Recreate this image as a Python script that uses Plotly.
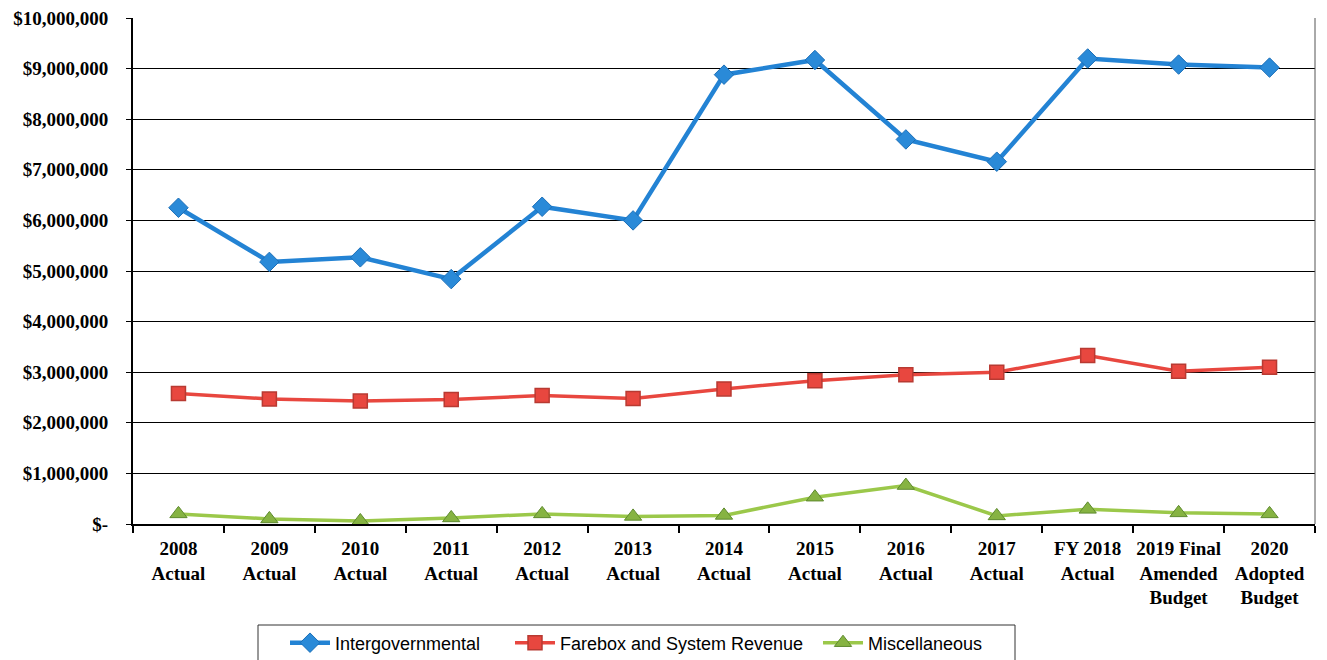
import plotly.graph_objects as go

categories = ["2008<br>Actual", "2009<br>Actual", "2010<br>Actual", "2011<br>Actual",
              "2012<br>Actual", "2013<br>Actual", "2014<br>Actual", "2015<br>Actual",
              "2016<br>Actual", "2017<br>Actual", "FY 2018<br>Actual",
              "2019 Final<br>Amended<br>Budget", "2020<br>Adopted<br>Budget"]

intergovernmental = [6250000, 5180000, 5270000, 4840000, 6270000, 6000000, 8880000,
                     9170000, 7600000, 7160000, 9200000, 9080000, 9020000]
farebox = [2580000, 2470000, 2430000, 2460000, 2540000, 2480000, 2670000,
           2830000, 2950000, 3000000, 3330000, 3020000, 3100000]
miscellaneous = [200000, 100000, 60000, 120000, 200000, 150000, 170000,
                 530000, 760000, 160000, 290000, 220000, 200000]

ytick_vals = [0, 1000000, 2000000, 3000000, 4000000, 5000000, 6000000,
              7000000, 8000000, 9000000, 10000000]
ytick_text = ["$-", "$1,000,000", "$2,000,000", "$3,000,000", "$4,000,000", "$5,000,000",
              "$6,000,000", "$7,000,000", "$8,000,000", "$9,000,000", "$10,000,000"]

W, H = 1327, 660
ML, MR, MT, MB = 133, 12, 18, 136
PW, PH = W - ML - MR, H - MT - MB


def px_x(p):
    return (p - ML) / PW


def px_y(p):
    return (H - MB - p) / PH


legend_font = dict(family="Liberation Sans Narrow, Liberation Sans, Arial", size=18, color="black")

fig = go.Figure()
fig.add_trace(go.Scatter(
    x=categories, y=intergovernmental, name="Intergovernmental", mode="lines+markers",
    line=dict(color="#2383D4", width=4.5),
    marker=dict(symbol="diamond", size=15, color="#2A8AD8", line=dict(color="#1B6FB8", width=1)),
    legend="legend"))
fig.add_trace(go.Scatter(
    x=categories, y=farebox, name="Farebox and System Revenue", mode="lines+markers",
    line=dict(color="#E8473F", width=3.5),
    marker=dict(symbol="square", size=14, color="#E8473F", line=dict(color="#B83A32", width=1.5)),
    legend="legend2"))
fig.add_trace(go.Scatter(
    x=categories, y=miscellaneous, name="Miscellaneous", mode="lines+markers",
    line=dict(color="#9BC84A", width=3.5),
    marker=dict(symbol="triangle-up", size=15, color="#86B342", line=dict(color="#5E8A2E", width=1)),
    legend="legend3"))

leg_common = dict(orientation="h", xanchor="left", yanchor="middle", y=px_y(643),
                  bgcolor="rgba(0,0,0,0)", borderwidth=0, font=legend_font, itemwidth=40)

fig.update_layout(
    width=W, height=H,
    margin=dict(l=ML, r=MR, t=MT, b=MB, autoexpand=False),
    paper_bgcolor="white", plot_bgcolor="white",
    showlegend=True,
    legend=dict(x=px_x(285), **leg_common),
    legend2=dict(x=px_x(510), **leg_common),
    legend3=dict(x=px_x(818), **leg_common),
    shapes=[
        dict(type="line", xref="paper", yref="paper", x0=1, x1=1, y0=0, y1=1,
             line=dict(color="#555555", width=1)),
        dict(type="rect", xref="paper", yref="paper", x0=px_x(258), x1=px_x(1015),
             y0=px_y(625), y1=px_y(690), line=dict(color="#333333", width=1),
             fillcolor="rgba(0,0,0,0)"),
    ],
)
fig.update_xaxes(
    type="category", range=[-0.5, 12.5], showgrid=False,
    showline=True, linecolor="black", linewidth=2,
    ticks="outside", tickson="boundaries", ticklen=7, tickwidth=2, tickcolor="black",
    ticklabelstandoff=6, tickangle=0,
    tickfont=dict(family="Liberation Serif", size=19, color="black", weight="bold"),
)
fig.update_yaxes(
    range=[0, 10000000], tickvals=ytick_vals, ticktext=ytick_text,
    showgrid=True, gridcolor="black", gridwidth=1.3,
    showline=True, linecolor="black", linewidth=2,
    ticks="outside", ticklen=5, tickcolor="black",
    ticklabelstandoff=14,
    tickfont=dict(family="Liberation Serif", size=19, color="black", weight="bold"),
    zeroline=False,
)

fig.write_html("out.html")
